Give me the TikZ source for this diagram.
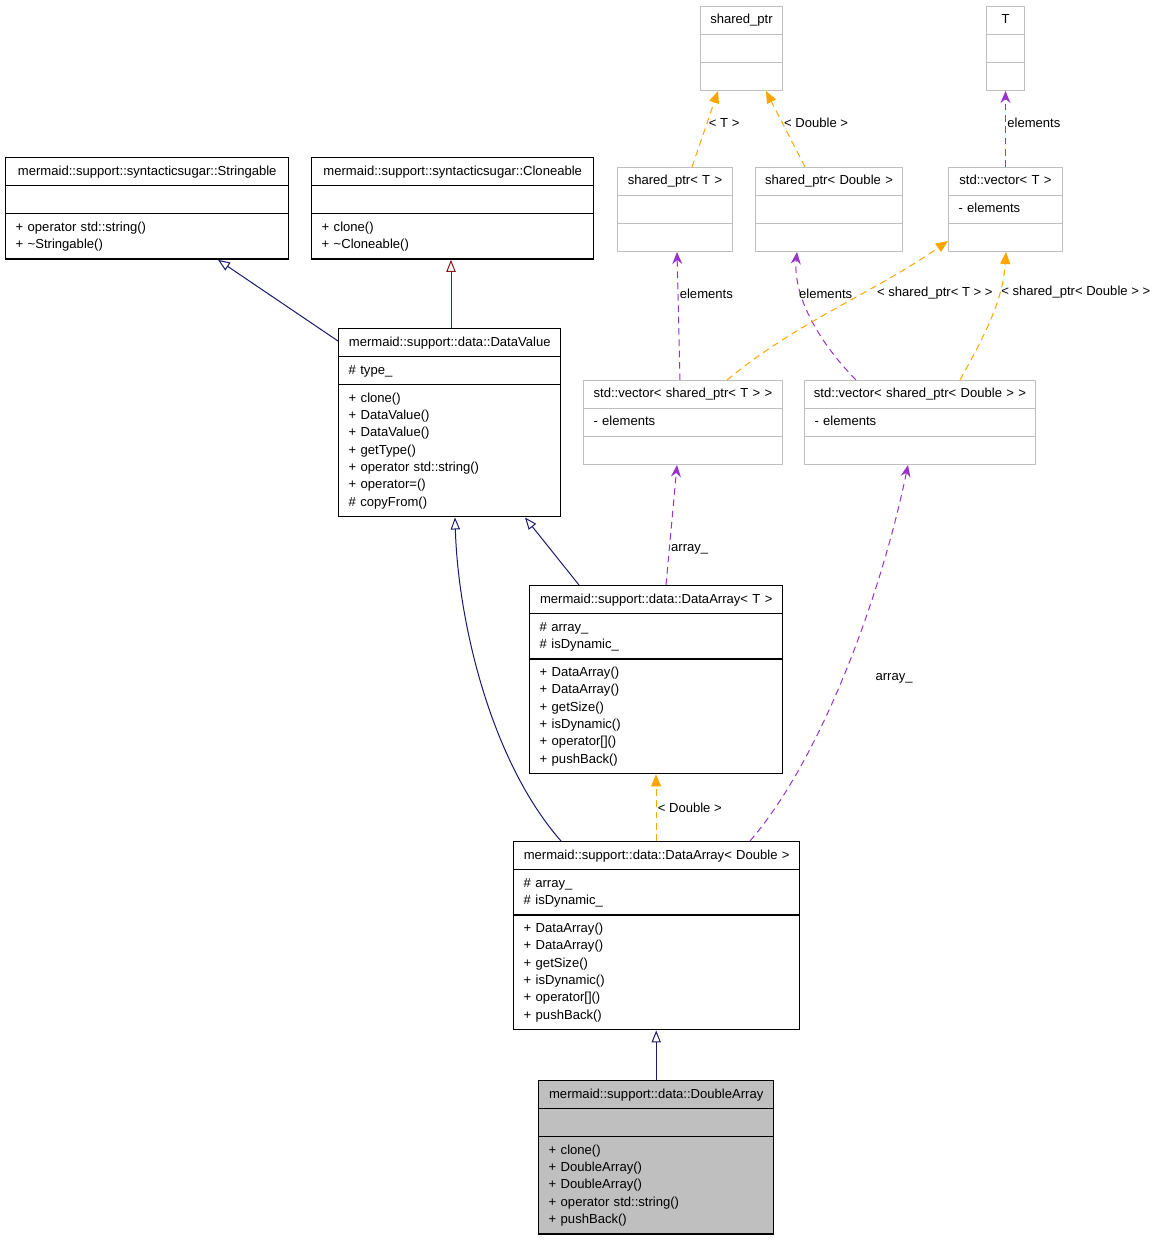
\documentclass[tikz,border=0pt]{standalone}
\usepackage{fontspec}
\setmainfont{Liberation Sans}
\usetikzlibrary{arrows.meta,positioning,shapes.multipart}
\definecolor{dnavy}{HTML}{191970}
\definecolor{dred}{HTML}{8B1A1A}
\definecolor{dorchid}{HTML}{9A32CD}
\definecolor{dorange}{HTML}{FFA500}
\definecolor{dgrey}{HTML}{BFBFBF}
\newcommand\clsname[1]{\makebox[\linewidth]{#1}}

\begin{document}
\begin{tikzpicture}[x=0.75pt,y=-0.75pt,font=\fontsize{9.8}{13}\selectfont,
  cls/.style={rectangle split,rectangle split parts=3,draw,line width=1.1pt,anchor=north west,
    align=left,inner xsep=7.5pt,inner ysep=3.45pt,text width={#1*0.75pt-15pt},
    execute at begin node=\strut,execute at end node=\strut},
  tpl/.style={cls=#1,draw=dgrey,line width=0.75pt,inner ysep=3.625pt},
  cur/.style={cls=#1,fill=dgrey},
  inh/.style={-{Triangle[open,length=9pt,width=7pt]},dnavy,line width=0.75pt},
  inhp/.style={inh,dred},
  use/.style={-{Stealth[length=9pt,width=7.5pt,inset=3pt]},dorchid,line width=0.75pt,dash pattern=on 5pt off 3.5pt},
  inst/.style={-{Triangle[length=9pt,width=7.5pt]},dorange,line width=0.75pt,dash pattern=on 5pt off 3.5pt},
  lbl/.style={text=black,inner sep=1pt}]
\useasboundingbox (0,0) rectangle (1157,1240);
% --- templates, top right ---
\node[tpl=82] (sp) at (700,6) {\clsname{shared\_ptr}\nodepart{second}\nodepart{third}};
\node[tpl=38] (t) at (986,6) {\clsname{T}\nodepart{second}\nodepart{third}};
\node[tpl=115] (spt) at (617,167) {\clsname{shared\_ptr< T >}\nodepart{second}\nodepart{third}};
\node[tpl=147] (spd) at (755,167) {\clsname{shared\_ptr< Double >}\nodepart{second}\nodepart{third}};
\node[tpl=114] (vt) at (948,167) {\clsname{std::vector< T >}\nodepart{second}- elements\nodepart{third}};
\node[tpl=199] (vst) at (583,380) {\clsname{std::vector< shared\_ptr< T > >}\nodepart{second}- elements\nodepart{third}};
\node[tpl=231] (vsd) at (804,380) {\clsname{std::vector< shared\_ptr< Double > >}\nodepart{second}- elements\nodepart{third}};
% --- class hierarchy ---
\node[cls=283] (str) at (5,157) {\clsname{mermaid::support::syntacticsugar::Stringable}\nodepart{second}
  \nodepart{third}+ operator std::string()\\+ \textasciitilde Stringable()};
\node[cls=282] (clo) at (311,157) {\clsname{mermaid::support::syntacticsugar::Cloneable}\nodepart{second}
  \nodepart{third}+ clone()\\+ \textasciitilde Cloneable()};
\node[cls=222] (dv) at (338,328) {\clsname{mermaid::support::data::DataValue}\nodepart{second}\# type\_
  \nodepart{third}+ clone()\\+ DataValue()\\+ DataValue()\\+ getType()\\+ operator std::string()\\+ operator=()\\\# copyFrom()};
\node[cls=253] (dat) at (529,585) {\clsname{mermaid::support::data::DataArray< T >}\nodepart{second}\# array\_\\\# isDynamic\_
  \nodepart{third}+ DataArray()\\+ DataArray()\\+ getSize()\\+ isDynamic()\\+ operator[]()\\+ pushBack()};
\node[cls=286] (dad) at (513,841) {\clsname{mermaid::support::data::DataArray< Double >}\nodepart{second}\# array\_\\\# isDynamic\_
  \nodepart{third}+ DataArray()\\+ DataArray()\\+ getSize()\\+ isDynamic()\\+ operator[]()\\+ pushBack()};
\node[cur=235] (da) at (538,1080) {\clsname{mermaid::support::data::DoubleArray}\nodepart{second}
  \nodepart{third}+ clone()\\+ DoubleArray()\\+ DoubleArray()\\+ operator std::string()\\+ pushBack()};
% --- inheritance ---
\draw[inh] (dv.west |- 0,341) -- (str.south -| 218,0);
\draw[inhp] (dv.north -| 451,0) -- (clo.south -| 451,0);
\draw[inh] (dat.north -| 579,0) -- (dv.south -| 525,0);
\draw[inh] (dad.north -| 561,0) .. controls (490,760) and (458,620) .. (dv.south -| 455,0);
\draw[inh] (da.north) -- (dad.south -| da.north);
% --- usage and template instances ---
\draw[inst] (dad.north -| 656,0) -- node[lbl,right]{< Double >} (dat.south -| 656,0);
\draw[use] (dat.north -| 666,0) -- node[lbl,right,pos=0.3]{array\_} (vst.south -| 677,0);
\draw[use] (dad.north -| 750,0) .. controls (820,760) and (880,600) .. node[lbl,pos=0.5,xshift=37pt,yshift=-4pt]{array\_} (vsd.south -| 908,0);
\draw[use] (vst.north -| 680,0) -- node[lbl,right,pos=0.67]{elements} (spt.south -| 677,0);
\draw[use] (vsd.north -| 856,0) .. controls (812,335) and (793,290) .. node[lbl,right,pos=0.65,xshift=-3pt]{elements} (spd.south -| 797,0);
\draw[inst] (vst.north -| 727,0) .. controls (800,320) and (870,295) .. node[lbl,right,pos=0.62,xshift=10pt]{< shared\_ptr< T > >} (vt.west |- 0,241);
\draw[inst] (vsd.north -| 960,0) .. controls (985,335) and (1003,300) .. node[lbl,right,pos=0.7]{< shared\_ptr< Double > >} (vt.south -| 1006,0);
\draw[inst] (spt.north -| 692,0) -- node[lbl,right,pos=0.58]{< T >} (sp.south -| 718,0);
\draw[inst] (spd.north -| 805,0) -- node[lbl,right,pos=0.58]{< Double >} (sp.south -| 766,0);
\draw[use] (vt.north) -- node[lbl,right,pos=0.58]{elements} (t.south);
\end{tikzpicture}
\end{document}
